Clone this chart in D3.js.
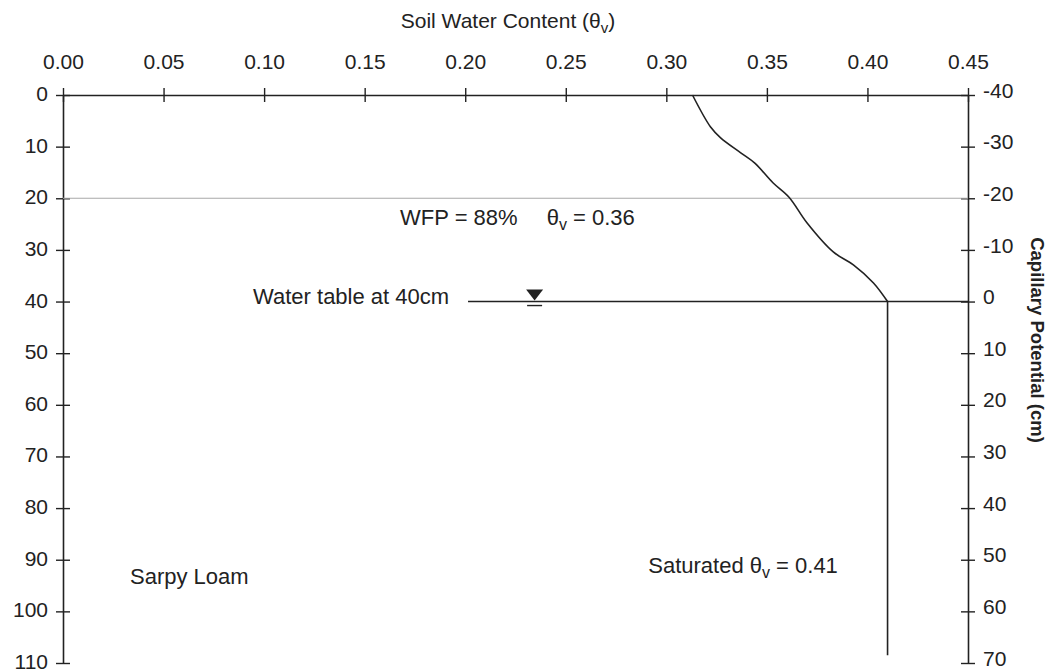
<!DOCTYPE html>
<html>
<head>
<meta charset="utf-8">
<script src="https://cdn.jsdelivr.net/npm/d3@7"></script>
<style>
  body { margin: 0; background: #fff; }
  text { font-family: "Liberation Sans", Arial, Helvetica, sans-serif; fill: #222; }
</style>
</head>
<body>
<svg class="target"></svg>
<script>
// soil water content ticks (top axis)
var thetaTicks = [0.00, 0.05, 0.10, 0.15, 0.20, 0.25, 0.30, 0.35, 0.40, 0.45];
// depth ticks, cm (left axis)
var depthTicks = [0, 10, 20, 30, 40, 50, 60, 70, 80, 90, 100, 110];
// capillary potential ticks, cm (right axis)
var potentialTicks = [-40, -30, -20, -10, 0, 10, 20, 30, 40, 50, 60, 70];

// measured profile above the water table
var profileTheta = [0.313, 0.322, 0.327, 0.337, 0.344, 0.353, 0.361, 0.370, 0.383, 0.393, 0.403, 0.410];
var profileDepth = [0, 6.2, 8.3, 11.2, 13.2, 17.0, 19.8, 24.8, 30.4, 32.9, 36.4, 40];

var saturatedTheta = 0.41;
var saturatedBottom = 108.5;
var waterTableDepth = 40;
var wfpDepth = 20;

var view_w = 1048;
var view_h = 672;
var ink = "#222";

var svg = d3.select(".target").attr("width", view_w).attr("height", view_h)
    .attr("viewBox", [0, 0, view_w, view_h]);

var x = d3.scaleLinear().domain([0, 0.45]).range([63, 968]);
var y = d3.scaleLinear().domain([0, 110]).range([95, 663]);
var yPot = d3.scaleLinear().domain([-40, 70]).range([95, 663]);

// make ticks cross the axis line ("+" look)
var cross = function (g, horiz) {
    g.select(".domain").attr("stroke", ink).attr("stroke-width", 1.6);
    g.selectAll(".tick line").attr("stroke", ink).attr("stroke-width", 1.4)
        .attr(horiz ? "y1" : "x1", -7).attr(horiz ? "y2" : "x2", 7);
    g.selectAll(".tick text").style("font-size", "21px").attr("fill", ink);
}

var gTop = svg.append("g").attr("transform", "translate(0," + y(0) + ")")
    .call(d3.axisTop(x).tickValues(thetaTicks).tickFormat(d3.format(".2f"))
        .tickSize(0).tickSizeOuter(0).tickPadding(26));
cross(gTop, true);

var gLeft = svg.append("g").attr("transform", "translate(" + x(0) + ",0)")
    .call(d3.axisLeft(y).tickValues(depthTicks).tickSize(0).tickSizeOuter(0).tickPadding(15));
cross(gLeft, false);
gLeft.selectAll(".tick text").attr("dy", "0.26em");

var gRight = svg.append("g").attr("transform", "translate(" + x(0.45) + ",0)")
    .call(d3.axisRight(yPot).tickValues(potentialTicks)
        .tickFormat(function (d) { return String(d); })
        .tickSize(0).tickSizeOuter(0).tickPadding(15));
cross(gRight, false);
gRight.selectAll(".tick text").attr("dy", "0.1em");

// axis titles
var topTitle = svg.append("text").attr("x", 508).attr("y", 28)
    .attr("text-anchor", "middle").style("font-size", "21px");
topTitle.append("tspan").text("Soil Water Content (θ");
topTitle.append("tspan").text("v").style("font-size", "15px").attr("dy", 5);
topTitle.append("tspan").text(")").attr("dy", -5);

svg.append("text")
    .attr("transform", "translate(1031,340) rotate(90)")
    .attr("text-anchor", "middle")
    .style("font-size", "18.5px").style("font-weight", "bold")
    .text("Capillary Potential (cm)");

// WFP reference line at 20 cm
svg.append("line")
    .attr("x1", x(0)).attr("x2", x(0.45))
    .attr("y1", y(wfpDepth)).attr("y2", y(wfpDepth))
    .attr("stroke", "#a8a8a8").attr("stroke-width", 1.2);

// water table line
svg.append("line")
    .attr("x1", x(0.2014)).attr("x2", x(0.45))
    .attr("y1", y(waterTableDepth)).attr("y2", y(waterTableDepth))
    .attr("stroke", ink).attr("stroke-width", 1.6);

// water table marker
var mx = x(0.2345), my = y(waterTableDepth);
svg.append("path")
    .attr("d", "M" + (mx - 8.5) + "," + (my - 12) + "L" + (mx + 8.5) + "," + (my - 12) + "L" + mx + "," + (my - 1) + "Z")
    .attr("fill", ink);
svg.append("line")
    .attr("x1", mx - 7.5).attr("x2", mx + 7.5).attr("y1", my + 4).attr("y2", my + 4)
    .attr("stroke", ink).attr("stroke-width", 1.4);

// profile curve
var pts = profileTheta.map(function (t, i) { return [t, profileDepth[i]]; });
var line = d3.line().x(function (d) { return x(d[0]); }).y(function (d) { return y(d[1]); })
    .curve(d3.curveCatmullRom);
svg.append("path").datum(pts).attr("d", line)
    .attr("fill", "none").attr("stroke", ink).attr("stroke-width", 1.6);

// saturated zone
svg.append("path")
    .datum([[saturatedTheta, waterTableDepth], [saturatedTheta, saturatedBottom]])
    .attr("d", d3.line().x(function (d) { return x(d[0]); }).y(function (d) { return y(d[1]); }))
    .attr("fill", "none").attr("stroke", ink).attr("stroke-width", 1.6);

// annotations
var note = function (t, d, str) {
    return svg.append("text").attr("x", x(t)).attr("y", y(d)).style("font-size", "22px").text(str);
}
var theta_note = function (t, d, pre, post) {
    var el = svg.append("text").attr("x", x(t)).attr("y", y(d)).style("font-size", "22px");
    el.append("tspan").text(pre + "θ");
    el.append("tspan").text("v").style("font-size", "16px").attr("dy", 5);
    el.append("tspan").text(post).attr("dy", -5);
}
note(0.1676, 25.2, "WFP = 88%");
theta_note(0.2405, 25.2, "", " = 0.36");
note(0.0945, 40.5, "Water table at 40cm");
note(0.0333, 94.7, "Sarpy Loam");
theta_note(0.291, 92.6, "Saturated ", " = 0.41");
</script>
</body>
</html>
